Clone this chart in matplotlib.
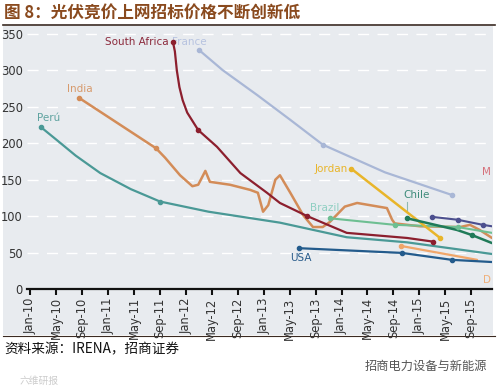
import matplotlib
matplotlib.use("Agg")
import matplotlib.pyplot as plt
from matplotlib.lines import Line2D

plt.rcParams['font.family'] = ['DejaVu Sans', 'Noto Sans CJK SC']

# ---------------- data (x = months since Jan-2010, y = USD/MWh) ----------------
tick_months = [0, 4, 8, 12, 16, 20, 24, 28, 32, 36, 40, 44, 48, 52, 56, 60, 64, 68]
tick_labels = ["Jan-10", "May-10", "Sep-10", "Jan-11", "May-11", "Sep-11", "Jan-12",
               "May-12", "Sep-12", "Jan-13", "May-13", "Sep-13", "Jan-14", "May-14",
               "Sep-14", "Jan-15", "May-15", "Sep-15"]
y_ticks = [0, 50, 100, 150, 200, 250, 300, 350]

peru_x = [1.65, 4.0, 7.0, 10.8, 15.5, 20.0, 27.5, 38.5, 48.8, 58.1, 71.2]
peru_y = [222, 205, 183, 159, 137, 120, 106, 91, 71, 64, 48]

india_x = [7.55, 19.4, 20.8, 23.1, 25.0, 25.9, 27.0, 27.7, 30.8, 33.9, 35.1, 35.9,
           36.7, 37.8, 38.5, 40.1, 42.1, 43.6, 45.1, 46.2, 48.5, 50.4, 55.0, 55.8,
           56.2, 60.1, 66.3, 67.8, 69.3, 71.2]
india_y = [262, 193, 180, 156, 141, 143, 162, 147, 143, 136, 132, 106,
           115, 150, 156, 132, 101, 85, 85, 92, 113, 118, 111, 95,
           90, 86, 85, 88, 81, 70]

safrica_x = [22.0, 22.3, 22.6, 23.0, 23.5, 24.2, 25.9, 28.8, 32.4, 36.5, 38.5, 42.7, 48.8, 58.1, 62.1]
safrica_y = [339, 326, 300, 277, 259, 242, 218, 195, 159, 132, 118, 100, 77, 70, 65]

france_x = [26.0, 29.7, 35.0, 40.1, 45.1, 54.7, 65.0]
france_y = [328, 300, 266, 232, 198, 160, 129]

jordan_x = [49.5, 63.2]
jordan_y = [165, 70]

brazil_x = [46.2, 56.2, 65.9, 71.2]
brazil_y = [97, 88, 85, 77]

chile_x = [58.1, 65.8, 68.1, 71.2]
chile_y = [97, 81, 74, 63]

mexico_x = [61.9, 65.9, 69.8, 71.2]
mexico_y = [99, 95, 88, 86]

usa_x = [41.4, 57.3, 65.0, 71.2]
usa_y = [56, 49.5, 40, 37]

dubai_x = [57.2, 68.9]
dubai_y = [59, 40]

# ---------------- figure ----------------
W, H = 501, 391
fig = plt.figure(figsize=(W / 100, H / 100), dpi=100)
fig.patch.set_facecolor("white")

bg = "#e8ebef"
panel = plt.Rectangle((3 / W, 1 - 335 / H), 490 / W, 309 / H,
                      transform=fig.transFigure, facecolor=bg,
                      edgecolor="none", zorder=-5)
fig.add_artist(panel)
fig.add_artist(Line2D([3 / W, 495 / W], [1 - 25 / H, 1 - 25 / H], color="#3a2a22", lw=1.2))
fig.add_artist(Line2D([3 / W, 495 / W], [1 - 335.5 / H, 1 - 335.5 / H], color="#3a2a22", lw=0.8))

fig.text(4 / W, 1 - 12.5 / H, "图 8：光伏竞价上网招标价格不断创新低", fontsize=12,
         fontweight="bold", color="#8a4a1e", va="center", ha="left",
         family=["Noto Sans CJK SC"])
fig.text(4 / W, 1 - 349 / H, "资料来源：IRENA，招商证券", fontsize=9.8,
         color="#111111", va="center", ha="left", family=["Noto Sans CJK SC"])
fig.text(487 / W, 1 - 366 / H, "招商电力设备与新能源", fontsize=8.8,
         color="#555555", va="center", ha="right", family=["Noto Sans CJK SC"])
fig.text(20 / W, 1 - 381 / H, "六维研报", fontsize=7, color="#cccccc",
         va="center", ha="left", family=["Noto Sans CJK SC"])

ax = fig.add_axes([27 / W, 1 - 289 / H, 465 / W, 261 / H], zorder=2)
ax.set_facecolor(bg)
ax.set_xlim(-0.5, 71.2)
ax.set_ylim(0, 358)

for v in y_ticks[1:]:
    ax.axhline(v, color="white", lw=1.0, dashes=(8, 6), zorder=1)

for s in ["top", "right", "left"]:
    ax.spines[s].set_visible(False)
ax.spines["bottom"].set_color("#111111")
ax.spines["bottom"].set_linewidth(1.6)

ax.set_xticks(tick_months)
ax.set_xticklabels(tick_labels, rotation=90, fontsize=8.3, color="#333333")
ax.tick_params(axis="x", length=4, width=1.5, color="#111111", pad=2)
ax.set_yticks(y_ticks)
ax.set_yticklabels([str(v) for v in y_ticks], fontsize=8.3, color="#333333")
ax.tick_params(axis="y", length=0, pad=3)

def series(x, y, color, lw, marks):
    ax.plot(x, y, color=color, lw=lw, solid_capstyle="round",
            solid_joinstyle="round", zorder=3)
    ax.plot([x[i] for i in marks], [y[i] for i in marks], "o", color=color,
            ms=3, zorder=4)

series(france_x, france_y, "#a9b7d6", 1.6, [0, 4, 6])
series(peru_x, peru_y, "#4a9996", 1.6, [0, 5])
series(india_x, india_y, "#d38c58", 1.8, [0, 1])
series(brazil_x, brazil_y, "#6ebf92", 1.5, [0, 1, 2])
series(jordan_x, jordan_y, "#e8b52a", 1.8, [0, 1])
series(dubai_x, dubai_y, "#f0a66a", 1.6, [0])
series(usa_x, usa_y, "#235b8c", 1.6, [0, 1, 2])
series(mexico_x, mexico_y, "#4c4f8e", 1.5, [0, 1, 2])
series(chile_x, chile_y, "#1f7a58", 1.8, [0, 2])
series(safrica_x, safrica_y, "#8c1f2e", 1.6, [0, 6, 11, 14])

lab = dict(fontsize=7.5, va="center")
ax.text(21.3, 339, "South Africa", color="#8c2a3c", ha="right", **lab)
ax.text(21.9, 339, "France", color="#b7c3e0", ha="left", **lab)
ax.text(5.7, 274, "India", color="#d79a6c", ha="left", **lab)
ax.text(1.0, 234, "Perú", color="#5fa3a0", ha="left", **lab)
ax.text(43.8, 164, "Jordan", color="#e8b52a", ha="left", **lab)
ax.text(43.2, 111, "Brazil", color="#8fcfc2", ha="left", **lab)
ax.text(57.5, 129, "Chile", color="#3f8c7c", ha="left", **lab)
ax.plot([58.1, 58.1], [106, 120], color="#8fb8b0", lw=0.8, zorder=2)
ax.text(40.0, 43, "USA", color="#2a5d8c", ha="left", **lab)
ax.text(71.1, 160, "M", color="#d6707a", ha="right", **lab)
ax.text(71.1, 12, "D", color="#f0b07a", ha="right", **lab)

fig.savefig("out.png", dpi=100, facecolor=fig.get_facecolor())
